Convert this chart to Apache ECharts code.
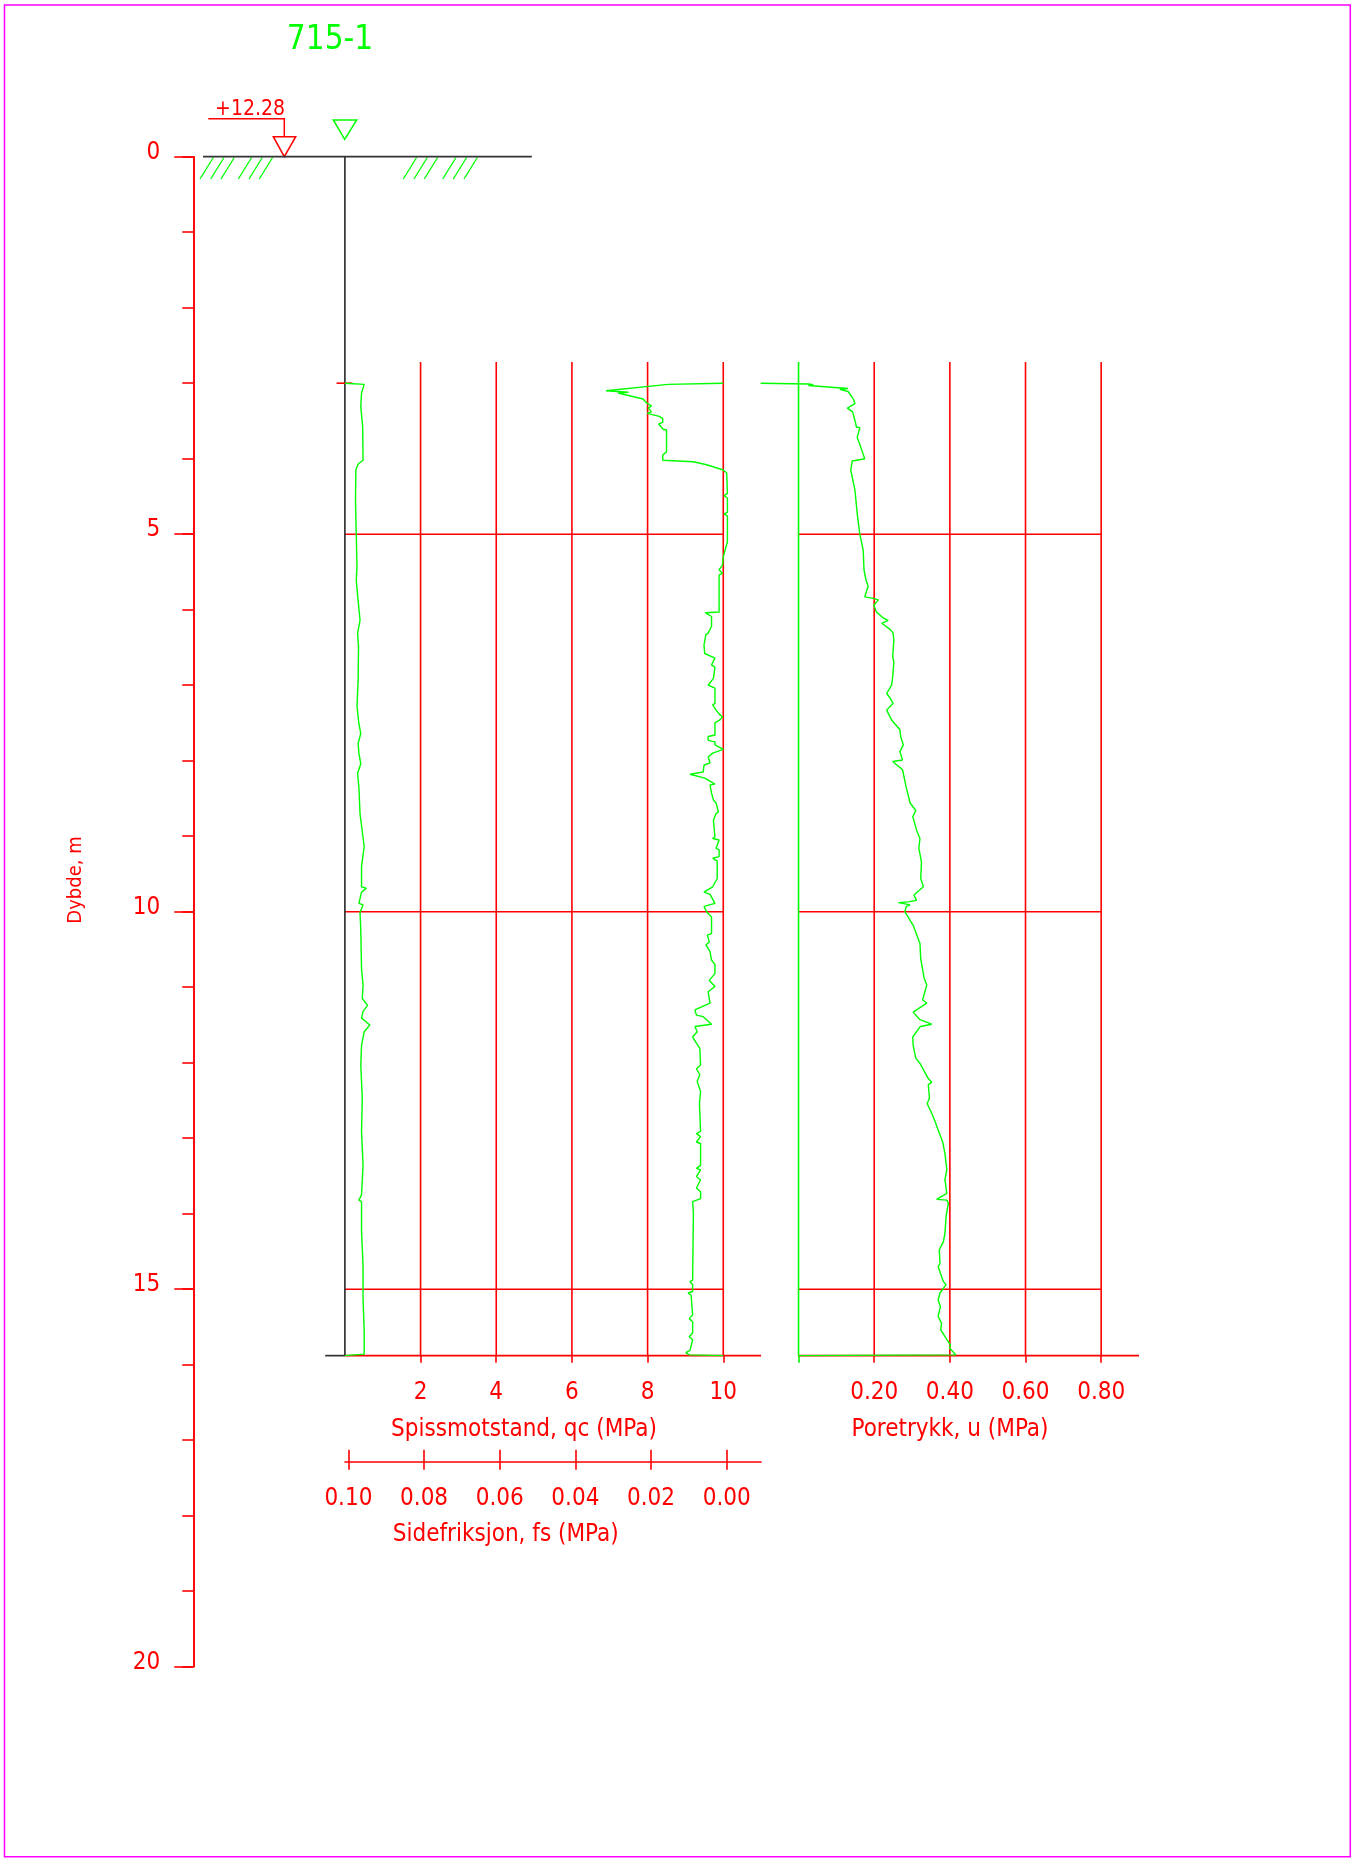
<!DOCTYPE html>
<html><head><meta charset="utf-8">
<script src="https://cdn.jsdelivr.net/npm/echarts@6/dist/echarts.min.js"></script>
<style>html,body{margin:0;padding:0;background:#fff}#c{width:1357px;height:1858px}</style>
</head><body><div id="c"></div>
<script>
// ---------------- data ----------------
const boreholeName = '715-1';
const elevationLabel = '+12.28';
const depthMax = 20;
const gridDepthTop = 2.72;
const soundingBottom = 15.88;
const gridDepths = [5, 10, 15];
const qcTicks = [2, 4, 6, 8, 10];
const fsTicks = [0.10, 0.08, 0.06, 0.04, 0.02, 0.00];
const uTicks = [0.2, 0.4, 0.6, 0.8];
const depthTitle = 'Dybde, m';
const qcTitle = 'Spissmotstand, qc (MPa)';
const fsTitle = 'Sidefriksjon, fs (MPa)';
const uTitle = 'Poretrykk, u (MPa)';

// [depth m, qc MPa]
const qcProfile = [[3.00,0.00],[3.015,0.51],[3.13,0.44],[3.31,0.42],[3.58,0.47],[4.02,0.48],[4.07,0.35],[4.15,0.29],[4.55,0.28],[4.99,0.30],[5.43,0.32],[5.61,0.30],[5.83,0.34],[6.14,0.40],[6.31,0.335],[6.49,0.36],[6.93,0.35],[7.28,0.32],[7.51,0.37],[7.64,0.42],[7.77,0.35],[7.90,0.37],[8.04,0.42],[8.17,0.335],[8.35,0.37],[8.70,0.40],[9.14,0.51],[9.40,0.44],[9.67,0.44],[9.69,0.57],[9.74,0.44],[9.89,0.37],[9.91,0.48],[10.01,0.40],[10.24,0.42],[10.76,0.44],[10.97,0.48],[11.15,0.46],[11.24,0.60],[11.32,0.48],[11.41,0.44],[11.50,0.66],[11.59,0.51],[11.77,0.44],[12.03,0.42],[12.47,0.46],[12.91,0.44],[13.36,0.48],[13.75,0.44],[13.82,0.37],[13.84,0.44],[14.24,0.44],[14.68,0.48],[15.12,0.48],[15.56,0.51],[15.86,0.51],[15.88,0.00]];

// [depth m, fs MPa]
const fsProfile = [[3.00,0],[3.015,0.0146],[3.10,0.031],[3.12,0.0251],[3.13,0.0278],[3.21,0.0212],[3.26,0.0203],[3.30,0.0190],[3.33,0.0198],[3.38,0.0190],[3.40,0.0201],[3.44,0.0169],[3.47,0.0160],[3.52,0.0160],[3.54,0.0171],[3.61,0.0159],[3.62,0.0150],[3.91,0.0150],[3.95,0.0160],[4.02,0.0160],[4.04,0.0079],[4.08,0.0044],[4.15,0],[4.19,-0.0009],[4.46,-0.0011],[4.49,-0.0002],[4.52,-0.0011],[4.71,-0.0011],[4.73,-0.0002],[4.76,-0.0011],[5.10,-0.0011],[5.30,0],[5.41,0.0002],[5.47,0.0011],[5.52,0.0002],[5.54,0.0011],[5.87,0.0011],[6.03,0.0011],[6.04,0.0048],[6.09,0.0031],[6.22,0.0031],[6.31,0.0040],[6.33,0.0046],[6.47,0.0051],[6.58,0.0049],[6.64,0.0022],[6.73,0.0031],[6.76,0.0022],[6.91,0.0026],[7.00,0.0040],[7.04,0.0022],[7.24,0.0022],[7.26,0.0028],[7.33,0.0019],[7.38,0.0011],[7.42,0.0002],[7.46,0.0009],[7.50,0.0022],[7.66,0.0022],[7.68,0.0040],[7.73,0.0040],[7.75,0.0022],[7.79,0.0022],[7.85,0],[7.90,0.0028],[7.95,0.0040],[8.03,0.0035],[8.06,0.0051],[8.15,0.0053],[8.18,0.0088],[8.23,0.0049],[8.31,0.0022],[8.32,0.0035],[8.43,0.0031],[8.52,0.0026],[8.56,0.0019],[8.68,0.0013],[8.70,0.0019],[8.79,0.0026],[9.01,0.0022],[9.03,0.0028],[9.05,0.0011],[9.16,0.0019],[9.18,0.0011],[9.27,0.0011],[9.29,0.0028],[9.33,0.0016],[9.56,0.0016],[9.67,0.0028],[9.74,0.0051],[9.77,0.0035],[9.89,0.0022],[9.93,0.0051],[10.00,0.0044],[10.07,0.0031],[10.29,0.0031],[10.31,0.0042],[10.40,0.0037],[10.44,0.0046],[10.53,0.0035],[10.64,0.0031],[10.70,0.0022],[10.82,0.0022],[10.91,0.0037],[10.99,0.0022],[11.06,0.0040],[11.21,0.0035],[11.30,0.0075],[11.37,0.0071],[11.39,0.0053],[11.49,0.0031],[11.52,0.0075],[11.59,0.0069],[11.66,0.0081],[11.74,0.0071],[11.81,0.0062],[12.03,0.0060],[12.08,0.0071],[12.16,0.0062],[12.25,0.0069],[12.38,0.0060],[12.54,0.0063],[12.91,0.0060],[12.94,0.0071],[12.98,0.0060],[13.05,0.0071],[13.07,0.0060],[13.36,0.0060],[13.40,0.0071],[13.42,0.0060],[13.51,0.0071],[13.55,0.0060],[13.66,0.0071],[13.71,0.0060],[13.80,0.0060],[13.84,0.0081],[13.99,0.0079],[14.88,0.0081],[14.90,0.0088],[14.94,0.0081],[15.03,0.0081],[15.05,0.0093],[15.08,0.0085],[15.34,0.0081],[15.39,0.0090],[15.43,0.0081],[15.58,0.0081],[15.63,0.0090],[15.67,0.0081],[15.81,0.0088],[15.84,0.0099],[15.87,0.0090],[15.88,0]];

// [depth m, u MPa]
const uProfile = [[3.00,-0.100],[3.01,0.026],[3.02,0.039],[3.03,0.026],[3.07,0.131],[3.08,0.109],[3.11,0.131],[3.21,0.145],[3.27,0.149],[3.33,0.129],[3.38,0.143],[3.49,0.149],[3.58,0.153],[3.59,0.162],[3.72,0.155],[3.84,0.164],[4.00,0.175],[4.03,0.142],[4.15,0.138],[4.41,0.149],[4.72,0.155],[5.00,0.162],[5.21,0.171],[5.47,0.173],[5.60,0.178],[5.69,0.184],[5.83,0.175],[5.85,0.198],[5.87,0.211],[5.94,0.199],[6.03,0.206],[6.11,0.224],[6.14,0.237],[6.18,0.220],[6.26,0.242],[6.31,0.250],[6.40,0.252],[6.62,0.249],[6.69,0.252],[6.89,0.249],[7.00,0.246],[7.11,0.233],[7.17,0.242],[7.24,0.250],[7.33,0.233],[7.46,0.246],[7.59,0.268],[7.68,0.270],[7.79,0.277],[7.88,0.268],[7.99,0.275],[8.01,0.249],[8.12,0.275],[8.34,0.284],[8.56,0.295],[8.66,0.310],[8.74,0.302],[8.92,0.312],[9.03,0.321],[9.16,0.318],[9.34,0.325],[9.56,0.323],[9.67,0.330],[9.78,0.305],[9.85,0.312],[9.87,0.290],[9.88,0.264],[9.91,0.295],[9.93,0.285],[10.00,0.281],[10.18,0.303],[10.42,0.321],[10.62,0.323],[10.88,0.332],[10.97,0.339],[11.17,0.328],[11.21,0.339],[11.33,0.303],[11.43,0.321],[11.49,0.352],[11.52,0.322],[11.66,0.302],[11.77,0.303],[11.94,0.310],[12.01,0.321],[12.21,0.343],[12.26,0.352],[12.29,0.343],[12.47,0.346],[12.54,0.340],[12.67,0.352],[12.78,0.361],[12.89,0.369],[13.05,0.381],[13.20,0.387],[13.42,0.392],[13.55,0.387],[13.73,0.392],[13.81,0.365],[13.82,0.392],[13.86,0.396],[14.04,0.390],[14.26,0.387],[14.37,0.383],[14.48,0.372],[14.66,0.374],[14.70,0.369],[14.79,0.375],[14.90,0.383],[14.94,0.390],[15.05,0.374],[15.14,0.369],[15.23,0.375],[15.36,0.369],[15.45,0.378],[15.54,0.376],[15.65,0.390],[15.74,0.402],[15.78,0.399],[15.87,0.416],[15.88,0]];

// ---------------- layout / style ----------------
const FONT = "'DejaVu Sans Condensed','Liberation Sans Narrow','Liberation Sans',sans-serif";
const RED = '#ff0000', GREEN = '#00ff00', BLACK = '#333333';
const Y0 = 156.7, PXM = 75.5;
const panelH = soundingBottom * PXM;
// qc panel: x axis spans qc -3.75 .. 11 MPa
const QC_MIN = -3.75, QC_MAX = 11, QC_LEFT = 203, QC_W = 558.1;
// fs curve shares the qc panel, reversed: fs 0.10 at qc 0, fs 0 at qc 10
const FS_MIN = -0.01, FS_MAX = 0.13754;
// fs scale bar (drawn 3.5 px right of the qc grid)
const FSB_MIN = -0.00909, FSB_MAX = 0.10090;
// u panel: x axis spans u -0.1 .. 0.9 MPa
const U_MIN = -0.1, U_MAX = 0.9, U_LEFT = 760.7, U_W = 378.3;
const LW = 1.6;

const chart = echarts.init(document.getElementById('c'), null, {renderer: 'canvas'});

function rule(xi, yi, pts, color, width) {
  return {type: 'line', xAxisIndex: xi, yAxisIndex: yi, data: pts, symbol: 'none', showSymbol: false,
    silent: true, clip: false, animation: false, lineStyle: {color: color, width: width}, z: 2};
}
function curve(xi, yi, profile) {
  return {type: 'line', xAxisIndex: xi, yAxisIndex: yi, data: profile.map(p => [p[1], p[0]]),
    symbol: 'none', showSymbol: false, silent: true, clip: false, animation: false,
    lineStyle: {color: GREEN, width: 1.4}, z: 5};
}

const lastQc = qcTicks[qcTicks.length - 1];
const lastU = uTicks[uTicks.length - 1];
const series = [];
// qc panel
qcTicks.forEach(v => series.push(rule(1, 2, [[v, gridDepthTop], [v, soundingBottom]], RED, LW)));
gridDepths.forEach(d => series.push(rule(1, 2, [[0, d], [lastQc, d]], RED, LW)));
series.push(rule(1, 2, [[0, soundingBottom], [QC_MAX, soundingBottom]], RED, LW));
series.push(rule(1, 2, [[-0.52, soundingBottom], [0, soundingBottom]], BLACK, 1.7));
series.push(rule(1, 2, [[0, 0], [0, soundingBottom]], BLACK, 1.7));
series.push(rule(1, 2, [[QC_MIN, 0], [4.94, 0]], BLACK, 1.7));
series.push(rule(1, 2, [[-0.22, qcProfile[0][0]], [0.2, qcProfile[0][0]]], RED, LW));
// u panel
uTicks.forEach(v => series.push(rule(5, 4, [[v, gridDepthTop], [v, soundingBottom]], RED, LW)));
gridDepths.forEach(d => series.push(rule(5, 4, [[0, d], [lastU, d]], RED, LW)));
series.push(rule(5, 4, [[0, soundingBottom], [U_MAX, soundingBottom]], RED, LW));
series.push(rule(5, 4, [[0, gridDepthTop], [0, soundingBottom]], GREEN, LW));
// curves
series.push(curve(1, 2, qcProfile));
series.push(curve(2, 2, fsProfile));
series.push(curve(5, 4, uProfile));

const axisText = {color: RED, fontSize: 24, fontFamily: FONT};
const noLine = {show: false, onZero: false};

const option = {
  animation: false,
  backgroundColor: '#ffffff',
  textStyle: {fontFamily: FONT},
  grid: [
    {left: 193.3, top: Y0, width: 10, height: depthMax * PXM},
    {left: QC_LEFT, top: Y0, width: QC_W, height: panelH},
    {left: 345, top: 1400, width: 416.1, height: 61.7},
    {left: U_LEFT, top: Y0, width: U_W, height: panelH}
  ],
  xAxis: [
    {gridIndex: 0, type: 'value', show: false, min: 0, max: 1},
    {gridIndex: 1, type: 'value', min: QC_MIN, max: QC_MAX, position: 'bottom',
      axisLine: noLine,
      axisTick: {customValues: qcTicks, length: 7, lineStyle: {color: RED, width: LW}},
      axisLabel: Object.assign({customValues: qcTicks, margin: 25}, axisText),
      splitLine: {show: false}},
    {gridIndex: 1, type: 'value', min: FS_MIN, max: FS_MAX, inverse: true, show: false, axisLine: {onZero: false}},
    {gridIndex: 2, type: 'value', min: FSB_MIN, max: FSB_MAX, inverse: true, position: 'bottom',
      axisLine: {onZero: false, lineStyle: {color: RED, width: LW}},
      axisTick: {customValues: fsTicks, length: 8, lineStyle: {color: RED, width: LW}},
      axisLabel: Object.assign({customValues: fsTicks, margin: 25, formatter: v => v.toFixed(2)}, axisText),
      splitLine: {show: false}},
    {gridIndex: 2, type: 'value', min: FSB_MIN, max: FSB_MAX, inverse: true, position: 'bottom',
      axisLine: noLine,
      axisTick: {customValues: fsTicks, inside: true, length: 12, lineStyle: {color: RED, width: LW}},
      axisLabel: {show: false}, splitLine: {show: false}},
    {gridIndex: 3, type: 'value', min: U_MIN, max: U_MAX, position: 'bottom',
      axisLine: noLine,
      axisTick: {customValues: uTicks, length: 7, lineStyle: {color: RED, width: LW}},
      axisLabel: Object.assign({customValues: uTicks, margin: 25, formatter: v => v.toFixed(2)}, axisText),
      splitLine: {show: false}},
    {gridIndex: 3, type: 'value', min: U_MIN, max: U_MAX, position: 'bottom',
      axisLine: noLine,
      axisTick: {customValues: [0], length: 7, lineStyle: {color: GREEN, width: LW}},
      axisLabel: {show: false}, splitLine: {show: false}}
  ],
  yAxis: [
    {gridIndex: 0, type: 'value', inverse: true, min: 0, max: depthMax, interval: 1, position: 'left',
      axisLine: {show: true, onZero: false, lineStyle: {color: RED, width: LW}},
      axisTick: {show: true, length: 11, lineStyle: {color: RED, width: LW}},
      axisLabel: {show: false}, splitLine: {show: false}},
    {gridIndex: 0, type: 'value', inverse: true, min: 0, max: depthMax, interval: 5, position: 'left',
      axisLine: {show: true, onZero: false, lineStyle: {color: RED, width: LW}},
      axisTick: {show: true, length: 19, lineStyle: {color: RED, width: LW}},
      axisLabel: Object.assign({margin: 33, verticalAlign: 'bottom', padding: [0, 0, -8, 0]}, axisText),
      splitLine: {show: false}},
    {gridIndex: 1, type: 'value', inverse: true, min: 0, max: soundingBottom, show: false},
    {gridIndex: 2, type: 'value', min: 0, max: 1, show: false},
    {gridIndex: 3, type: 'value', inverse: true, min: 0, max: soundingBottom, show: false}
  ],
  series: series,
  graphic: [
    {type: 'rect', silent: true, shape: {x: 4.5, y: 5, width: 1345.8, height: 1851.7},
      style: {fill: 'none', stroke: '#ff00ff', lineWidth: 1.5}},
    {type: 'text', silent: true, x: 330, y: 40, style: {text: boreholeName, fill: GREEN, font: '33px ' + FONT, align: 'center', verticalAlign: 'middle'}},
    {type: 'text', silent: true, x: 285, y: 110, style: {text: elevationLabel, fill: RED, font: '21px ' + FONT, align: 'right', verticalAlign: 'middle'}},
    {type: 'polyline', silent: true, shape: {points: [[208.3, 118.7], [284.3, 118.7], [284.3, 136.7]]}, style: {stroke: RED, lineWidth: 1.5, fill: 'none'}},
    {type: 'polygon', silent: true, shape: {points: [[273.3, 136.7], [295.7, 136.7], [284.3, 156.7]]}, style: {stroke: RED, lineWidth: 1.5, fill: 'none'}},
    {type: 'polygon', silent: true, shape: {points: [[333.3, 120], [356.7, 120], [344.7, 139.3]]}, style: {stroke: GREEN, lineWidth: 1.5, fill: 'none'}},
    {type: 'group', silent: true, children: [200, 210.7, 221, 238.3, 249, 259.3, 403.3, 414, 424.3, 442.7, 453.3, 464].map(x0 => ({
      type: 'line', shape: {x1: x0, y1: 179, x2: x0 + 13.3, y2: 157.5}, style: {stroke: GREEN, lineWidth: 1.3}}))},
    {type: 'text', silent: true, x: 76, y: 880, rotation: Math.PI / 2, style: {text: depthTitle, fill: RED, font: '20px ' + FONT, align: 'center', verticalAlign: 'middle'}},
    {type: 'text', silent: true, x: 524, y: 1430, style: {text: qcTitle, fill: RED, font: '24px ' + FONT, align: 'center', verticalAlign: 'middle'}},
    {type: 'text', silent: true, x: 505.7, y: 1535, style: {text: fsTitle, fill: RED, font: '24px ' + FONT, align: 'center', verticalAlign: 'middle'}},
    {type: 'text', silent: true, x: 950, y: 1430, style: {text: uTitle, fill: RED, font: '24px ' + FONT, align: 'center', verticalAlign: 'middle'}}
  ]
};
chart.setOption(option);
</script>
</body></html>
